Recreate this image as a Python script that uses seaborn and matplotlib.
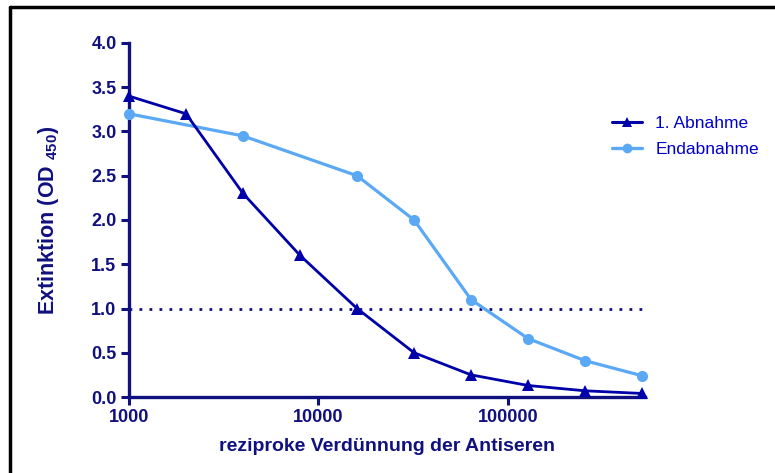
import matplotlib
matplotlib.use("Agg")
import matplotlib.pyplot as plt
import matplotlib.ticker as mticker
from matplotlib.lines import Line2D
import seaborn as sns
import pandas as pd

# ---- data ----
dil_abnahme = [1000, 2000, 4000, 8000, 16000, 32000, 64000, 128000, 256000, 512000]
od_abnahme = [3.40, 3.20, 2.30, 1.60, 1.00, 0.50, 0.25, 0.13, 0.07, 0.04]
dil_end = [1000, 4000, 16000, 32000, 64000, 128000, 256000, 512000]
od_end = [3.20, 2.95, 2.50, 2.00, 1.10, 0.66, 0.41, 0.24]
series_names = ["1. Abnahme", "Endabnahme"]
cutoff = 1.0
x_ticks = [1000, 10000, 100000]
y_ticks = [0.0, 0.5, 1.0, 1.5, 2.0, 2.5, 3.0, 3.5, 4.0]

sns.set_theme(style="white")
plt.rcParams['font.family'] = ['Liberation Sans', 'DejaVu Sans']
plt.rcParams['mathtext.fontset'] = 'custom'
plt.rcParams['mathtext.rm'] = 'Liberation Sans:bold'
plt.rcParams['mathtext.bf'] = 'Liberation Sans:bold'

DARK = '#0000A8'
LIGHT = '#5BA8F5'
AXC = '#10107E'
LEGTXT = '#0000CC'

fig = plt.figure(figsize=(7.75, 4.73), dpi=100)
ax = fig.add_axes([129/775, 1-397/473, (645-129)/775, (397-43)/473])

df1 = pd.DataFrame({"x": dil_abnahme, "y": od_abnahme})
df2 = pd.DataFrame({"x": dil_end, "y": od_end})
sns.lineplot(data=df2, x="x", y="y", ax=ax, color=LIGHT, marker='o', markersize=8,
             markeredgewidth=0, linewidth=2.3, clip_on=False, zorder=3)
sns.lineplot(data=df1, x="x", y="y", ax=ax, color=DARK, marker='^', markersize=8,
             markeredgewidth=0, linewidth=2.0, clip_on=False, zorder=4)

ax.plot([dil_abnahme[0], dil_abnahme[-1]], [cutoff, cutoff], linestyle=(0, (1, 2.6)),
        color=AXC, linewidth=2.0, zorder=2)

ax.set_xscale('log')
ax.set_xlim(1000, 530000)
ax.set_ylim(0, 4.0)
ax.xaxis.set_major_locator(mticker.FixedLocator(x_ticks))
ax.xaxis.set_minor_locator(mticker.NullLocator())
ax.xaxis.set_major_formatter(mticker.FixedFormatter([str(t) for t in x_ticks]))
ax.set_yticks(y_ticks)
ax.set_yticklabels([f"{t:.1f}" for t in y_ticks])

for s in ['top', 'right']:
    ax.spines[s].set_visible(False)
for s in ['left', 'bottom']:
    ax.spines[s].set_color(AXC)
    ax.spines[s].set_linewidth(2.4)
ax.tick_params(axis='both', which='major', direction='out', length=6, width=2.2,
               color=AXC, labelcolor=AXC, labelsize=13, pad=3, bottom=True, left=True)
for lab in ax.get_xticklabels() + ax.get_yticklabels():
    lab.set_fontweight('bold')

ax.set_xlabel("reziproke Verdünnung der Antiseren", fontsize=14, fontweight='bold',
              color=AXC, labelpad=8)
ax.set_ylabel(r"Extinktion (OD $_{450}$)", fontsize=15.5, fontweight='bold',
              color=AXC, labelpad=22)

handles = [Line2D([], [], color=DARK, marker='^', markersize=7, markeredgewidth=0, linewidth=2.2),
           Line2D([], [], color=LIGHT, marker='o', markersize=7, markeredgewidth=0, linewidth=2.4)]
leg = fig.legend(handles, series_names, loc='upper left', bbox_to_anchor=(612/775, 1-116/473),
                 frameon=False, fontsize=12.5, handlelength=1.75, handletextpad=0.75,
                 labelspacing=0.62, borderaxespad=0, borderpad=0)
for t in leg.get_texts():
    t.set_color(LEGTXT)

# figure frame (top and left edges visible)
fig.add_artist(Line2D([9.5/775, 1], [1-7.5/473, 1-7.5/473], color='black', linewidth=2.5,
                      transform=fig.transFigure))
fig.add_artist(Line2D([9.5/775, 9.5/775], [0, 1-7.5/473], color='black', linewidth=2.5,
                      transform=fig.transFigure))

fig.savefig("out.png", dpi=100)
